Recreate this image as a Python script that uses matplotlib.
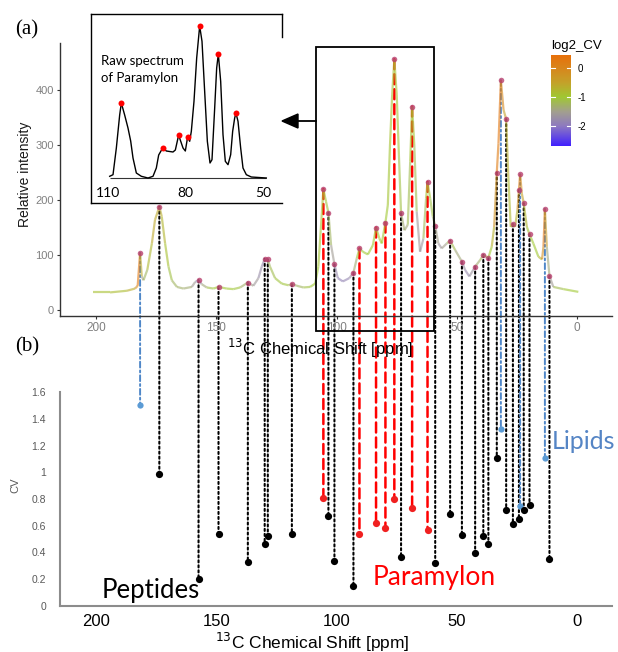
import numpy as np
import matplotlib
matplotlib.use("Agg")
import matplotlib.pyplot as plt
from matplotlib.collections import LineCollection
from matplotlib.colors import LinearSegmentedColormap, Normalize
from matplotlib.patches import ConnectionPatch, Rectangle, Polygon
from matplotlib.lines import Line2D

plt.rcParams['font.family'] = ['Liberation Sans', 'DejaVu Sans']

# ---- (a) averaged spectrum trace: ppm, relative intensity, log2_CV colour
spec_ppm = [
    201.1, 194.2, 187.2, 183.8, 182.7, 181.7, 181.0, 180.3, 178.7, 176.8,
    175.5, 173.7, 172.7, 171.3, 169.9, 168.5, 166.4, 163.7, 160.2, 158.8,
    157.4, 156.1, 154.0, 151.2, 149.1, 145.7, 142.9, 140.1, 136.9, 134.6,
    132.5, 131.1, 129.9, 128.6, 127.7, 125.6, 122.8, 120.0, 118.6, 116.5,
    113.8, 111.0, 108.9, 107.6, 106.6, 105.5, 104.4, 103.4, 102.3, 100.9,
    99.5, 97.4, 94.7, 93.0, 91.6, 90.5, 89.1, 87.0, 84.9, 83.6,
    82.2, 81.2, 80.4, 79.7, 78.7, 77.8, 76.9, 76.0, 75.0, 74.1,
    73.2, 71.8, 70.4, 69.4, 68.6, 67.7, 66.7, 65.3, 63.9, 62.8,
    62.2, 61.1, 60.0, 59.0, 57.7, 56.3, 54.2, 52.8, 50.7, 47.9,
    46.6, 44.8, 42.4, 40.3, 39.0, 36.9, 35.5, 34.5, 33.4, 32.7,
    31.7, 30.6, 29.5, 28.6, 27.6, 26.7, 25.8, 24.8, 24.2, 23.7,
    23.0, 22.2, 20.9, 19.8, 18.2, 16.1, 14.6, 14.0, 13.4, 12.6,
    11.5, 9.9, 5.7, -0.5]
spec_int = [
    32, 32, 35, 39, 44, 104, 61, 54, 73, 121,
    164, 188, 170, 121, 79, 54, 42, 39, 42, 51,
    54, 47, 41, 39, 42, 39, 38, 41, 50, 44,
    58, 79, 93, 92, 79, 58, 48, 45, 47, 44,
    41, 42, 48, 79, 145, 220, 197, 177, 118, 83,
    58, 52, 58, 68, 94, 112, 106, 101, 118, 150,
    130, 121, 142, 159, 191, 300, 391, 456, 391, 282,
    176, 145, 155, 270, 370, 300, 179, 106, 130, 203,
    233, 203, 170, 153, 121, 112, 121, 126, 109, 88,
    73, 61, 79, 91, 100, 95, 115, 151, 250, 303,
    418, 364, 347, 242, 151, 156, 151, 182, 218, 247,
    212, 194, 151, 138, 121, 97, 92, 115, 184, 115,
    62, 42, 38, 33]
spec_lcv = [
    -0.9, -0.9, -0.8, -0.5, 0.2, 0.3, -1.5, -1.5, -1.0, -0.6,
    -0.6, -0.6, -0.7, -0.8, -1.0, -1.2, -1.3, -1.3, -1.4, -1.7,
    -1.8, -1.6, -1.2, -1.0, -1.0, -1.0, -1.0, -1.1, -1.5, -1.5,
    -1.7, -1.8, -1.8, -1.3, -1.2, -1.1, -1.0, -1.1, -1.3, -1.3,
    -1.2, -1.0, -1.0, -1.0, -0.9, -0.9, -1.0, -1.1, -1.4, -1.7,
    -1.9, -1.9, -1.8, -1.6, -1.1, -1.0, -1.0, -1.0, -1.0, -1.0,
    -1.0, -1.0, -1.0, -1.0, -1.0, -0.9, -0.9, -0.9, -0.9, -1.0,
    -1.2, -1.5, -1.3, -1.0, -0.9, -1.0, -1.3, -1.9, -1.4, -1.0,
    -0.9, -1.0, -1.2, -1.4, -1.6, -1.7, -1.3, -1.1, -1.2, -1.6,
    -1.8, -1.8, -1.5, -1.2, -1.1, -1.1, -0.9, -0.5, 0.1, 0.3,
    0.3, -0.4, -0.6, -0.7, -0.9, -1.0, -0.9, -0.5, 0.1, 0.2,
    -0.4, -0.6, -0.9, -1.0, -1.0, -1.0, -0.5, 0.2, 0.3, -1.0,
    -1.8, -1.3, -1.0, -1.0]

# ---- picked peaks: position, height in (a), CV in (b), assignment
peak_ppm = [181.7, 173.7, 157.4, 149.1, 136.9, 129.9, 128.6, 118.6, 105.5, 103.4,
            100.9, 93.0, 90.5, 83.6, 79.7, 76.0, 73.2, 68.6, 62.2, 59.0,
            52.8, 47.9, 42.4, 39.0, 36.9, 33.4, 31.7, 29.5, 26.7, 24.2,
            23.7, 22.2, 19.8, 13.4, 11.5]
peak_int = [104, 188, 54, 42, 50, 93, 92, 47, 220, 177,
            83, 68, 112, 150, 159, 456, 176, 370, 233, 153,
            126, 88, 79, 100, 95, 250, 418, 347, 156, 218,
            247, 194, 138, 184, 62]
peak_cv = [1.50, 0.99, 0.20, 0.54, 0.33, 0.46, 0.52, 0.54, 0.805, 0.67,
           0.34, 0.15, 0.54, 0.62, 0.58, 0.80, 0.37, 0.735, 0.57, 0.32,
           0.69, 0.53, 0.40, 0.52, 0.46, 1.11, 1.32, 0.715, 0.61, 0.65,
           0.75, 0.72, 0.755, 1.11, 0.35]
peak_group = ['lip', 'pep', 'pep', 'pep', 'pep', 'pep', 'pep', 'pep', 'para', 'pep',
              'pep', 'pep', 'para', 'para', 'para', 'para', 'pep', 'para', 'para', 'pep',
              'pep', 'pep', 'pep', 'pep', 'pep', 'pep', 'lip', 'pep', 'pep', 'pep',
              'lip', 'pep', 'pep', 'lip', 'pep']

# ---- inset: raw spectrum of paramylon
inset_ppm = [109.35, 108.06, 106.77, 105.48, 104.84, 103.55, 102.26, 101.22, 100.32, 99.03,
             97.10, 94.51, 92.58, 91.29, 90.38, 88.83, 87.42, 84.84, 83.93, 82.90,
             82.64, 80.96, 80.06, 79.16, 78.38, 77.74, 76.71, 75.67, 74.51, 73.61,
             72.58, 71.54, 70.51, 69.74, 68.70, 67.93, 67.29, 66.38, 65.48, 64.58,
             63.54, 62.51, 61.74, 60.96, 60.45, 59.67, 58.64, 57.74, 56.45, 54.51,
             48.71]
inset_int = [1.7, 3.3, 30, 63, 75, 63, 50, 37, 20, 5,
             1.7, 0, 1.7, 10, 23, 30, 27, 26, 28, 40,
             42.7, 30, 27, 41.3, 36.7, 46.7, 76.7, 120, 152, 136.7,
             86.7, 36.7, 15, 18.3, 70, 110, 124, 96.7, 43.3, 16.7,
             13.3, 23.3, 46.7, 60, 64.7, 56.7, 30, 10, 3.3, 1,
             0]
inset_peak_ppm = [104.84, 88.83, 82.64, 79.16, 74.51, 67.29, 60.45]
inset_peak_int = [75, 30, 42.7, 41.3, 152, 124, 64.7]
inset_ticks = [110, 80, 50]

top_xticks = [200, 150, 100, 50, 0]
top_yticks = [0, 100, 200, 300, 400]
cv_ticks = [0, 0.2, 0.4, 0.6, 0.8, 1.0, 1.2, 1.4, 1.6]
cv_labels = ['0', '0.2', '0.4', '0.6', '0.8', '1', '1.2', '1.4', '1.6']

cb_vals = [-2.69, -2.0, -1.5, -1.0, -0.5, 0.0, 0.45]
cb_cols = ['#4020FF', '#8E7AC0', '#A3A08E', '#A0C832', '#C4A22A', '#D8861C', '#E8700A']
cb_ticks = [0, -1, -2]

W, H = 618.0, 652.0


def box(l, t, r, b):
    return [l / W, 1 - b / H, (r - l) / W, (b - t) / H]


def fx(px):
    return px / W


def fy(py):
    return 1 - py / H


fig = plt.figure(figsize=(6.18, 6.52), dpi=100)

vmin, vmax = cb_vals[0], cb_vals[-1]
norm = Normalize(vmin, vmax)
cmap = LinearSegmentedColormap.from_list(
    'cv', [((v - vmin) / (vmax - vmin), c) for v, c in zip(cb_vals, cb_cols)])

XLIM = (215, -14.5)

# ---------------- (a)
ax_a = fig.add_axes(box(60, 43, 612, 316))
ax_a.set_zorder(2)
ax_a.patch.set_alpha(0)
ax_a.set_xlim(*XLIM)
ax_a.set_ylim(-10.9, 485.5)
pts = np.column_stack([spec_ppm, spec_int])
segs = np.stack([pts[:-1], pts[1:]], axis=1)
mid = (np.array(spec_lcv[:-1]) + np.array(spec_lcv[1:])) / 2
lc = LineCollection(segs, colors=cmap(norm(mid)), linewidths=1.6, alpha=0.6)
ax_a.add_collection(lc)
ax_a.plot(peak_ppm, peak_int, 'o', color='#B8406E', ms=4.0, alpha=0.8, mec='none', zorder=5)
for s in ['top', 'right']:
    ax_a.spines[s].set_visible(False)
for s in ['left', 'bottom']:
    ax_a.spines[s].set_color('#333333')
    ax_a.spines[s].set_linewidth(1.0)
ax_a.set_xticks(top_xticks)
ax_a.set_yticks(top_yticks)
ax_a.tick_params(axis='x', length=2.5, width=0.8, color='#333333', labelcolor='#808080',
                 labelsize=8.5, pad=2)
ax_a.tick_params(axis='y', length=2.5, width=0.8, color='#333333', labelcolor='#808080',
                 labelsize=8, pad=2)

fig.text(fx(25), fy(174), 'Relative intensity', rotation=90, ha='center', va='center',
         size=10, color='#1a1a1a')
fig.text(fx(320), fy(348), '$^{13}$C Chemical Shift [ppm]', ha='center', va='center',
         size=12, color='black')

# ---------------- (b)
ax_b = fig.add_axes(box(60, 392, 612, 606))
ax_b.set_zorder(2)
ax_b.patch.set_alpha(0)
ax_b.set_xlim(*XLIM)
ax_b.set_ylim(0, 1.6)
for s in ['top', 'right']:
    ax_b.spines[s].set_visible(False)
for s in ['left', 'bottom']:
    ax_b.spines[s].set_color('#8c8c8c')
    ax_b.spines[s].set_linewidth(1.5)
ax_b.set_xticks(top_xticks)
ax_b.set_yticks(cv_ticks)
ax_b.set_yticklabels(cv_labels)
ax_b.tick_params(axis='x', length=0, labelsize=12, labelcolor='black', pad=6)
ax_b.tick_params(axis='y', length=0, labelsize=7.5, labelcolor='#595959', pad=10)
fig.text(fx(15), fy(485), 'CV', rotation=90, ha='center', va='center', size=8,
         color='#595959')
fig.text(fx(312), fy(642), '$^{13}$C Chemical Shift [ppm]', ha='center', va='center',
         size=12.5, color='black')

styles = {
    'pep': dict(color='black', ls=(0, (1, 1.4)), lw=1.5, mc='black', ms=5.2),
    'para': dict(color='#FF0000', ls=(0, (4, 2)), lw=1.8, mc='#F02020', ms=5.2),
    'lip': dict(color='#4F87C8', ls=(0, (3, 1.5, 1, 1.5)), lw=1.4, mc='#5B9BD5', ms=4.5),
}
for p, i, cv, g in zip(peak_ppm, peak_int, peak_cv, peak_group):
    st = styles[g]
    cp = ConnectionPatch(xyA=(p, i), coordsA=ax_a.transData, xyB=(p, cv),
                         coordsB=ax_b.transData, color=st['color'], lw=st['lw'],
                         linestyle=st['ls'], zorder=1)
    fig.add_artist(cp)
    ax_b.plot([p], [cv], 'o', color=st['mc'], ms=st['ms'], mec='none', clip_on=False,
              zorder=5)

fig.text(fx(102), fy(598), 'Peptides', family='Lato', size=18.5, color='black',
         ha='left', va='baseline')
fig.text(fx(373), fy(585), 'Paramylon', family='Lato', size=19, color='#FF0000',
         ha='left', va='baseline')
fig.text(fx(552), fy(449), 'Lipids', family='Lato', size=18, color='#5585C5',
         ha='left', va='baseline')

fig.text(fx(27), fy(30), '(a)', family='Liberation Serif', size=15, ha='center',
         va='center')
fig.text(fx(27), fy(347), '(b)', family='Liberation Serif', size=15, ha='center',
         va='center')

# ---------------- inset
ax_in = fig.add_axes(box(91, 14, 282, 203))
ax_in.set_zorder(3)
ax_in.set_xlim(116.58, 42.64)
ax_in.set_ylim(-25, 164)
ax_in.set_xticks([])
ax_in.set_yticks([])
for s in ['left', 'top', 'bottom']:
    ax_in.spines[s].set_color('black')
    ax_in.spines[s].set_linewidth(1.0)
ax_in.spines['right'].set_visible(False)
ax_in.plot([1, 1], [1, (203 - 37) / 189.0], transform=ax_in.transAxes, color='black',
           lw=1.0, clip_on=False)
ax_in.hlines(0, inset_ppm[0], inset_ppm[-1], color='#333333', lw=0.8)
ax_in.plot(inset_ppm, inset_int, color='black', lw=1.0)
ax_in.plot(inset_peak_ppm, inset_peak_int, 'o', color='#FF0000', ms=4.3, mec='none')
for t in inset_ticks:
    ax_in.text(t, -15, str(t), family='Lato', size=10, ha='center', va='center')
fig.text(fx(100.7), fy(64.7), 'Raw spectrum', family='Lato', size=9.5, ha='left',
         va='baseline', zorder=6)
fig.text(fx(100.7), fy(82), 'of Paramylon', family='Lato', size=9.5, ha='left',
         va='baseline', zorder=6)

# ---------------- zoom box and arrow
fig.add_artist(Rectangle((fx(316), fy(331)), 118 / W, 284 / H, fill=False,
                         ec='black', lw=1.3, transform=fig.transFigure, zorder=4))
fig.add_artist(Line2D([fx(316), fx(296)], [fy(121), fy(121)], color='black', lw=1.3,
                      transform=fig.transFigure, zorder=4))
fig.add_artist(Polygon([(fx(282), fy(121)), (fx(298), fy(114)), (fx(298), fy(128))],
                       closed=True, fc='black', ec='black', transform=fig.transFigure,
                       zorder=4))

# ---------------- colour bar
ax_c = fig.add_axes(box(551, 55, 571, 146))
grad = np.linspace(vmin, vmax, 256).reshape(-1, 1)
ax_c.imshow(grad, extent=[0, 1, vmin, vmax], origin='lower', aspect='auto', cmap=cmap,
            norm=norm)
ax_c.set_xlim(0, 1)
ax_c.set_ylim(vmin, vmax)
for s in ax_c.spines.values():
    s.set_visible(False)
ax_c.set_xticks([])
ax_c.yaxis.tick_right()
ax_c.set_yticks(cb_ticks)
ax_c.set_yticklabels([str(t) for t in cb_ticks])
ax_c.tick_params(axis='y', length=0, labelsize=7, pad=5)
for t in cb_ticks:
    ax_c.plot([0, 0.2], [t, t], color='white', lw=0.8)
    ax_c.plot([0.8, 1], [t, t], color='white', lw=0.8)
fig.text(fx(551), fy(46), 'log2_CV', size=9.5, ha='left', va='center')

fig.savefig('out.png', dpi=100)
